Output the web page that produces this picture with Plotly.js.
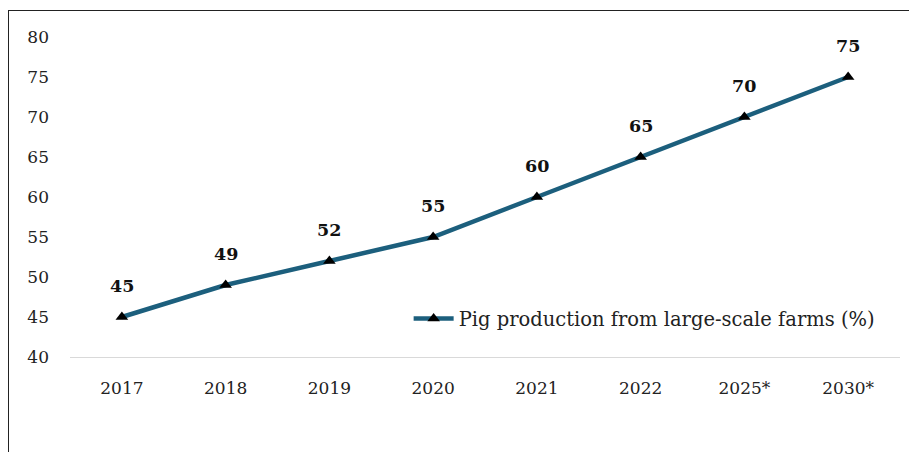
<!DOCTYPE html>
<html><head><meta charset="utf-8">
<script src="https://cdn.plot.ly/plotly-3.0.1.min.js"></script>
<style>
html,body{margin:0;padding:0;background:#fff;width:909px;height:452px;overflow:hidden;}
#frame{position:absolute;left:8px;top:10px;width:1000px;height:600px;border:1.5px solid #222;box-sizing:border-box;}
#chart{position:absolute;left:0;top:0;width:909px;height:452px;}
</style></head>
<body>
<div id="frame"></div>
<div id="chart"></div>
<script>
const years = ["2017","2018","2019","2020","2021","2022","2025*","2030*"];
const values = [45,49,52,55,60,65,70,75];
const seriesName = "Pig production from large-scale farms (%)";
const yTicks = [40,45,50,55,60,65,70,75,80];

const font = "'DejaVu Serif', 'Liberation Serif', serif";
const trace = {
  x: years, y: values, type: "scatter", mode: "lines+markers", name: seriesName,
  line: {color: "#1c5f7d", width: 4.5},
  marker: {symbol: "triangle-up", color: "#000", size: 11, line: {width: 0}}
};
const annotations = years.map((yr, i) => ({
  x: i, y: values[i], xref: "x", yref: "y", text: "<b>" + values[i] + "</b>", showarrow: false,
  yshift: 31, font: {family: font, size: 17.5, color: "#111"}
}));
const layout = {
  width: 909, height: 452,
  margin: {l: 70, r: 9, t: 37, b: 95},
  paper_bgcolor: "rgba(0,0,0,0)", plot_bgcolor: "rgba(0,0,0,0)",
  font: {family: font, size: 17, color: "#222"},
  showlegend: true,
  legend: {x: 0.408, y: 0.119, xanchor: "left", yanchor: "middle", bgcolor: "rgba(0,0,0,0)",
    font: {family: font, size: 19.5, color: "#222"}, itemwidth: 40},
  xaxis: {type: "category", range: [-0.5, 7.5], showline: true, linecolor: "#d9d9d9", linewidth: 1.2,
    showgrid: false, zeroline: false, ticks: "", ticklen: 0, ticklabelstandoff: 15,
    tickfont: {family: font, size: 17, color: "#222"}},
  yaxis: {range: [40, 80], tickvals: yTicks, showline: false, showgrid: false, zeroline: false,
    ticks: "", ticklabelstandoff: 20, tickfont: {family: font, size: 17, color: "#222"}},
  annotations: annotations
};
Plotly.newPlot("chart", [trace], layout, {displayModeBar: false, staticPlot: true});
</script>
</body></html>
